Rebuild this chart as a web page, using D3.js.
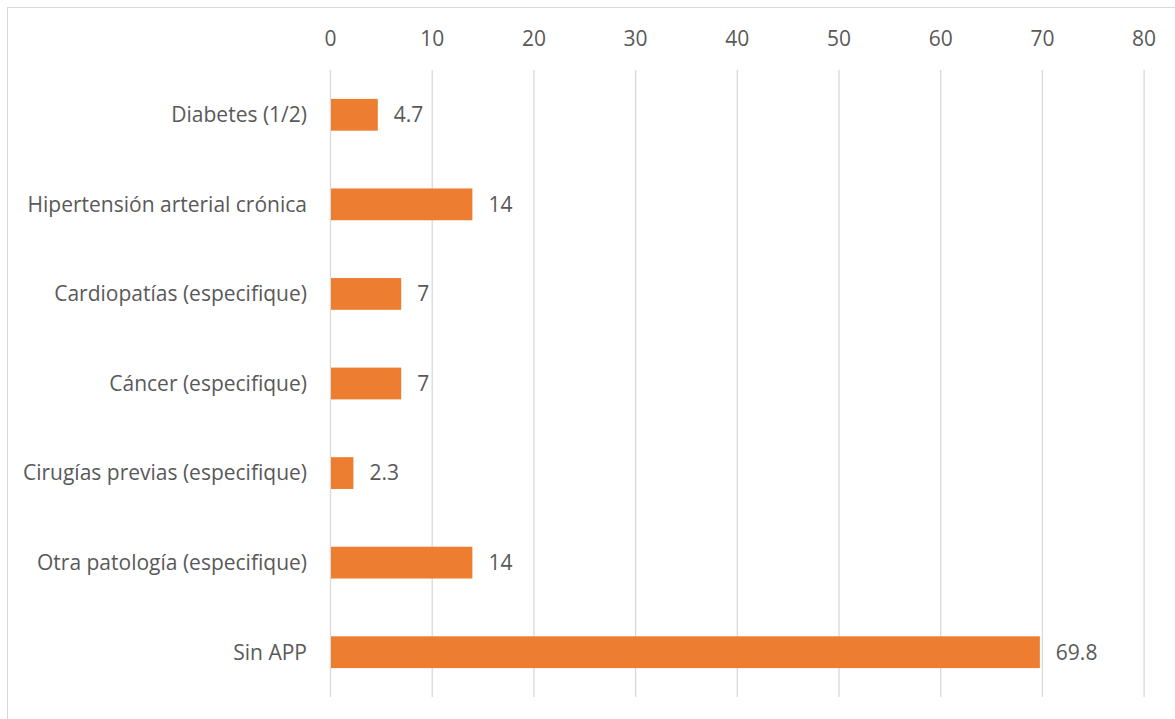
<!DOCTYPE html>
<html><head><meta charset="utf-8">
<script src="https://cdn.jsdelivr.net/npm/d3@7"></script>
<style>body{margin:0;background:#fff}svg{display:block}text{font-family:"Open Sans",sans-serif;fill:#595959}</style>
</head><body><svg id="c" width="1175" height="719"></svg>
<script>
const categories = ["Diabetes (1/2)","Hipertensión arterial crónica","Cardiopatías (especifique)","Cáncer (especifique)","Cirugías previas (especifique)","Otra patología (especifique)","Sin APP"];
const values = [4.7,14,7,7,2.3,14,69.8];
const valueLabels = ["4.7","14","7","7","2.3","14","69.8"];
const ticks = [0,10,20,30,40,50,60,70,80];

const FS = "21px";
const svg = d3.select("#c");
svg.append("rect").attr("x",7.5).attr("y",7.5).attr("width",1180).attr("height",730)
  .attr("fill","none").attr("stroke","#D9D9D9");
const x = d3.scaleLinear().domain([0,80]).range([330,1143.6]);
const y = d3.scaleBand().domain(categories).range([70,697]).paddingInner(0.645).paddingOuter(0.3225);

svg.append("g").selectAll("line").data(ticks).join("line")
  .attr("x1",d=>x(d)+0.5).attr("x2",d=>x(d)+0.5).attr("y1",70).attr("y2",697)
  .attr("stroke","#D9D9D9").attr("stroke-width",1.3);

const ax = svg.append("g").attr("transform","translate(0,70)").call(d3.axisTop(x).tickValues(ticks).tickSize(0).tickPadding(24));
ax.select(".domain").remove();
ax.selectAll("text").style("font-size",FS).attr("fill","#595959").style("font-family","'Open Sans',sans-serif");

svg.append("g").selectAll("rect").data(values).join("rect")
  .attr("x",x(0)+1).attr("y",(d,i)=>y(categories[i])).attr("height",y.bandwidth())
  .attr("width",d=>x(d)-x(0)-1).attr("fill","#ED7D31");

svg.append("g").selectAll("text").data(categories).join("text")
  .attr("x",307).attr("y",d=>y(d)+y.bandwidth()/2).attr("dy","0.35em").attr("text-anchor","end")
  .style("font-size",FS).text(d=>d);

svg.append("g").selectAll("text").data(values).join("text")
  .attr("x",d=>x(d)+16).attr("y",(d,i)=>y(categories[i])+y.bandwidth()/2).attr("dy","0.35em")
  .style("font-size",FS).text((d,i)=>valueLabels[i]);
</script></body></html>
